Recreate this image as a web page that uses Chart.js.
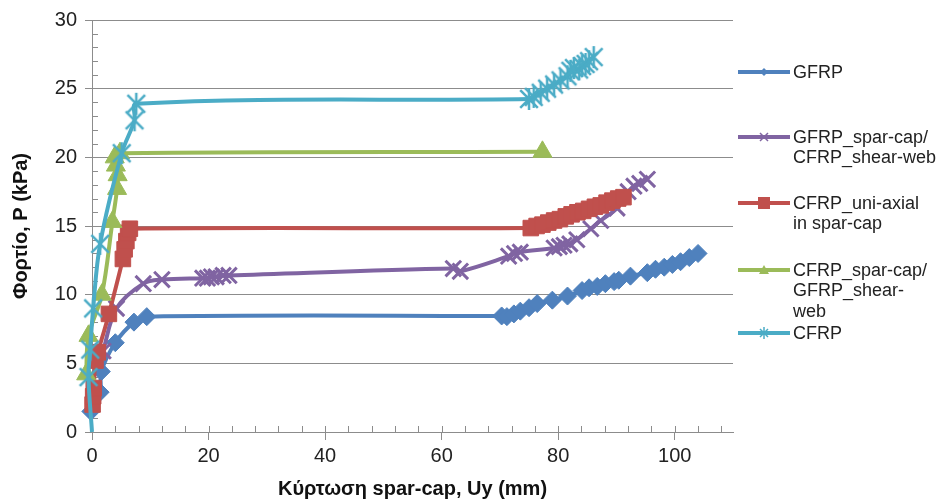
<!DOCTYPE html>
<html>
<head>
<meta charset="utf-8">
<script src="https://cdn.jsdelivr.net/npm/chart.js@4.4.1/dist/chart.umd.min.js"></script>
<style>
  html, body { margin: 0; padding: 0; background: #fff; }
  #wrap { position: relative; width: 946px; height: 501px; }
  #legend { position: absolute; left: 0; top: 0; font-family: 'Liberation Sans', Arial, sans-serif; font-size: 18px; color: #222; }
  .item { position: absolute; left: 738px; line-height: 20.5px; }
  .item svg { position: absolute; left: 0; top: 3px; }
  .item span { display: block; margin-left: 55px; white-space: nowrap; }
</style>
</head>
<body>
<div id="wrap">
  <canvas id="mycanvas" width="946" height="501"></canvas>
  <div id="legend"></div>
</div>
<script>
// series names (legend)
var seriesNames = ['GFRP', 'GFRP_spar-cap/\nCFRP_shear-web', 'CFRP_uni-axial\nin spar-cap', 'CFRP_spar-cap/\nGFRP_shear-\nweb', 'CFRP'];

// GFRP
var gfrpX = [-0.2, 1.4, 1.6, 4.0, 7.2, 9.4, 70.3, 71.2, 72.4, 73.5, 75.0, 76.4, 79.0, 81.6, 84.1, 85.3, 86.7, 88.1, 89.6, 90.4, 92.4, 95.3, 96.7, 98.2, 99.6, 101.0, 102.5, 104.0];
var gfrpY = [1.5, 2.9, 4.4, 6.5, 8.0, 8.4, 8.45, 8.4, 8.6, 8.8, 9.05, 9.35, 9.6, 9.9, 10.3, 10.5, 10.6, 10.8, 10.95, 11.05, 11.35, 11.6, 11.85, 12.0, 12.2, 12.4, 12.7, 13.0];

// GFRP_spar-cap / CFRP_shear-web
var gsX = [1.9, 4.2, 8.8, 12.0, 19.0, 19.8, 20.5, 21.3, 22.5, 23.5, 62.0, 63.2, 71.5, 72.5, 73.5, 79.3, 80.2, 81.0, 82.0, 83.2, 85.6, 87.3, 90.1, 92.0, 93.0, 94.0, 95.3];
var gsY = [5.9, 9.0, 10.8, 11.1, 11.2, 11.2, 11.3, 11.3, 11.4, 11.4, 11.9, 11.7, 12.8, 13.0, 13.1, 13.4, 13.5, 13.6, 13.7, 14.0, 14.8, 15.4, 16.3, 17.5, 17.9, 18.1, 18.4];

// CFRP_uni-axial in spar-cap
var cuX = [0.1, 0.2, 0.3, 0.6, 1.0, 2.9, 5.3, 5.6, 5.9, 6.2, 6.5, 75.3, 76.3, 77.3, 78.3, 79.3, 80.3, 81.3, 82.3, 83.3, 84.3, 85.3, 86.3, 87.3, 88.3, 89.3, 90.3, 91.2];
var cuY = [2.0, 2.6, 3.2, 5.2, 5.8, 8.6, 12.6, 13.3, 13.9, 14.5, 14.8, 14.85, 15.0, 15.1, 15.25, 15.4, 15.5, 15.7, 15.85, 16.0, 16.1, 16.25, 16.4, 16.5, 16.7, 16.85, 17.0, 17.1];

// CFRP_spar-cap / GFRP_shear-web
var csX = [-1.0, -0.6, 1.7, 3.5, 4.3, 4.4, 4.1, 3.9, 4.8, 77.3];
var csY = [4.2, 7.0, 10.0, 15.3, 17.7, 18.7, 19.4, 20.0, 20.3, 20.4];

// CFRP
var cfX = [0.0, -0.6, -0.3, 0.2, 1.4, 5.1, 7.3, 7.6, 75.0, 75.8, 77.0, 78.1, 79.3, 80.4, 81.6, 82.1, 82.7, 83.6, 84.1, 84.7, 85.3, 86.1];
var cfY = [0.0, 4.0, 6.0, 9.0, 13.7, 20.3, 22.7, 23.9, 24.25, 24.4, 24.7, 25.0, 25.3, 25.6, 25.9, 26.3, 26.5, 26.4, 26.65, 26.8, 27.0, 27.3];

var colors = ['#4F81BD', '#8064A2', '#C0504D', '#9BBB59', '#4BACC6'];
var fontFamily = "'Liberation Sans', Arial, sans-serif";
var axisGrey = '#8c8c8c';

function pts(xs, ys) {
    var out = [];
    for (var i = 0; i < xs.length; i++) out.push({x: xs[i], y: ys[i]});
    return out;
}

// excel-like star marker: X with a vertical bar
function starMarker(color, r) {
    var c = document.createElement('canvas');
    c.width = c.height = r * 2 + 4;
    var g = c.getContext('2d');
    var m = r + 2;
    g.strokeStyle = color;
    g.lineWidth = 2.5;
    g.beginPath();
    g.moveTo(m - r * 0.8, m - r * 0.8); g.lineTo(m + r * 0.8, m + r * 0.8);
    g.moveTo(m + r * 0.8, m - r * 0.8); g.lineTo(m - r * 0.8, m + r * 0.8);
    g.moveTo(m, m - r); g.lineTo(m, m + r);
    g.stroke();
    return c;
}

function ds(i, xs, ys, style, radius, extra) {
    var d = {
        label: seriesNames[i],
        data: pts(xs, ys),
        showLine: true,
        borderColor: colors[i],
        backgroundColor: colors[i],
        borderWidth: 4,
        tension: 0.35,
        pointStyle: style,
        pointRadius: radius,
        pointHoverRadius: radius,
        pointBorderWidth: 1,
        pointBackgroundColor: colors[i],
        pointBorderColor: colors[i],
        clip: false,
        order: 5 - i
    };
    for (var k in extra) d[k] = extra[k];
    return d;
}

var minorTicks = {
    id: 'minorTicks',
    beforeDatasetsDraw: function(chart) {
        var ctx = chart.ctx, a = chart.chartArea, x = chart.scales.x, y = chart.scales.y;
        ctx.save();
        ctx.strokeStyle = axisGrey;
        ctx.lineWidth = 1;
        ctx.beginPath();
        for (var v = 0; v <= 108; v += 4) {
            var px = Math.round(x.getPixelForValue(v)) + 0.5;
            ctx.moveTo(px, a.bottom);
            ctx.lineTo(px, a.bottom - 6);
        }
        for (var w = 1; w < 30; w++) {
            if (w % 5 === 0) continue;
            var py = Math.round(y.getPixelForValue(w)) + 0.5;
            ctx.moveTo(a.left, py);
            ctx.lineTo(a.left + 6, py);
        }
        ctx.stroke();
        ctx.restore();
    }
};

var config = {
    type: 'scatter',
    data: {
        datasets: [
            ds(0, gfrpX, gfrpY, 'rectRot', 9),
            ds(1, gsX, gsY, 'crossRot', 11, {pointBorderWidth: 3}),
            ds(2, cuX, cuY, 'rect', 11),
            ds(3, csX, csY, 'triangle', 11),
            ds(4, cfX, cfY, starMarker(colors[4], 11), 11, {
                pointRadius: function(c) { return c.dataIndex === 0 ? 0 : 11; }
            })
        ]
    },
    options: {
        responsive: false,
        animation: false,
        layout: { padding: { top: 17, right: 213, left: 0, bottom: 0 } },
        plugins: { legend: { display: false }, tooltip: { enabled: false } },
        scales: {
            x: {
                type: 'linear',
                min: 0, max: 110,
                afterBuildTicks: function(s) { s.ticks = s.ticks.filter(function(t) { return t.value % 20 === 0; }); },
                afterFit: function(s) { s.height = 69; },
                ticks: { stepSize: 20, color: '#222', padding: 4, font: { family: fontFamily, size: 20 } },
                grid: { drawOnChartArea: false, tickLength: 8, color: axisGrey },
                border: { color: axisGrey },
                title: { display: true, text: 'Κύρτωση spar-cap, Uy (mm)', color: '#111', padding: { top: 0, bottom: 0 }, font: { family: fontFamily, size: 20, weight: 'bold' } }
            },
            y: {
                min: 0, max: 30,
                afterFit: function(s) { s.width = 92; },
                ticks: { stepSize: 5, color: '#222', padding: 8, font: { family: fontFamily, size: 20 } },
                grid: { color: axisGrey, tickLength: 7 },
                border: { color: axisGrey },
                title: { display: true, text: 'Φορτίο, P (kPa)', color: '#111', padding: { top: 9, bottom: 0 }, font: { family: fontFamily, size: 20, weight: 'bold' } }
            }
        }
    },
    plugins: [minorTicks]
};

var myChart = new Chart(document.getElementById('mycanvas'), config);

// legend
var legendTops = [72, 137, 203, 270, 333];
var markerSvg = [
    '<polygon points="26,3 30,7 26,11 22,7" fill="' + colors[0] + '"/>',
    '<path d="M22,3 L30,11 M30,3 L22,11" stroke="' + colors[1] + '" stroke-width="1.5"/>',
    '<rect x="20" y="1" width="12" height="12" fill="' + colors[2] + '"/>',
    '<polygon points="26,2 31,11 21,11" fill="' + colors[3] + '"/>',
    '<path d="M22,3 L30,11 M30,3 L22,11 M26,1 L26,13" stroke="' + colors[4] + '" stroke-width="1.5"/>'
];
var legend = document.getElementById('legend');
for (var i = 0; i < seriesNames.length; i++) {
    var item = document.createElement('div');
    item.className = 'item';
    item.style.top = (legendTops[i] - 10.25) + 'px';
    item.innerHTML = '<svg width="52" height="14"><line x1="0" y1="7" x2="52" y2="7" stroke="' + colors[i] + '" stroke-width="4"/>' + markerSvg[i] + '</svg>' +
        '<span>' + seriesNames[i].split('\n').join('<br>') + '</span>';
    legend.appendChild(item);
}
</script>
</body>
</html>
